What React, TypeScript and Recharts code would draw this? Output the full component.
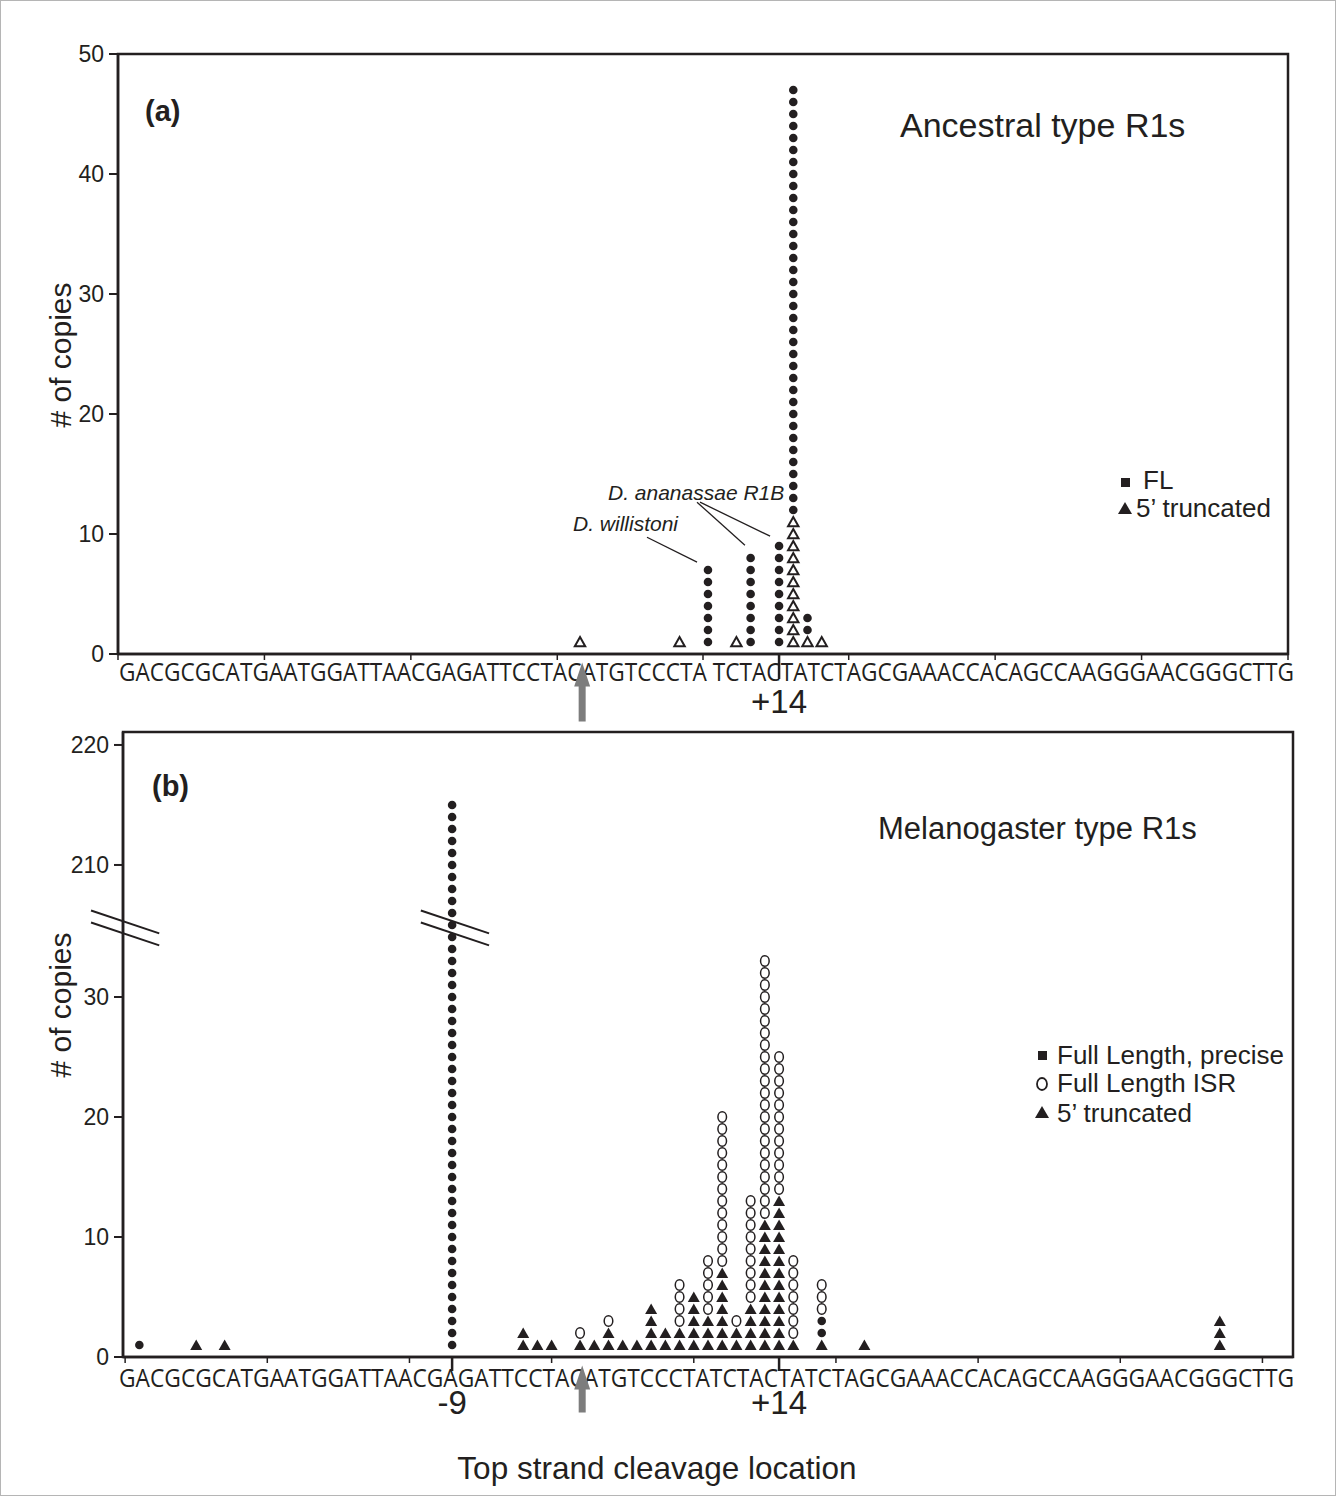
import React from 'react';
import {
  ScatterChart, Scatter, XAxis, YAxis, ReferenceArea, ReferenceLine, ReferenceDot,
} from 'recharts';

// sequence shown under both x axes (panel a has a gap after CCCTA)
const SEQ_A = 'GACGCGCATGAATGGATTAACGAGATTCCTACATGTCCCTA TCTACTATCTAGCGAAACCACAGCCAAGGGAACGGGCTTG';
const SEQ_B = 'GACGCGCATGAATGGATTAACGAGATTCCTACATGTCCCTATCTACTATCTAGCGAAACCACAGCCAAGGGAACGGGCTTG';

// (a) Ancestral type R1s - cleavage site relative to the arrow, copies per site
const A_TRUNC_SITES = [0, 7, 11, 15, 16, 17];
const A_TRUNC_COUNTS = [1, 1, 1, 11, 1, 1];
const A_FL_SITES = [9, 12, 14, 15, 16];
const A_FL_COUNTS = [7, 8, 9, 36, 2];

// (b) Melanogaster type R1s
const B_TRUNC_SITES = [-27, -25, -4, -3, -2, 0, 1, 2, 3, 4, 5, 6, 7, 8, 9, 10, 11, 12, 13, 14, 15, 17, 20, 45];
const B_TRUNC_COUNTS = [1, 1, 2, 1, 1, 1, 1, 2, 1, 1, 4, 2, 2, 5, 3, 7, 2, 4, 11, 13, 1, 1, 1, 3];
const B_PRECISE_SITES = [-31, -9, 17];
const B_PRECISE_COUNTS = [1, 215, 2];
const B_ISR_SITES = [0, 2, 7, 9, 10, 11, 12, 13, 14, 15, 17];
const B_ISR_COUNTS = [1, 1, 4, 5, 13, 1, 9, 22, 12, 7, 3];

// axes
const A_X_DOMAIN: [number, number] = [-32.5, 49.8];
const B_X_DOMAIN: [number, number] = [-32.15, 50.15];
const A_X_TICKS = [-32.5, -22.2, -11.9, -1.6, 8.65, 18.9, 29.2, 39.5, 49.8];
const B_X_TICKS = [-32, -22, -12, -2, 8, 18, 28, 38, 48];
const A_MAJOR = [14];
const A_MAJOR_LABELS = ['+14'];
const B_MAJOR = [-9, 14];
const B_MAJOR_LABELS = ['-9', '+14'];
const A_Y_TICKS = [0, 10, 20, 30, 40, 50];
const B_Y_TICKS = [0, 10, 20, 30, 210, 220];
const ARROW_SITE = 0.15;

// y axis break in panel b
const BREAK_LOW = 35;
const BREAK_HIGH = 205;
const BREAK_SHIFT = 169;
const toDisplay = (v: number) => (v <= BREAK_LOW ? v : v - BREAK_SHIFT);
const fromDisplay = (d: number) => (d <= BREAK_LOW ? d : d + BREAK_SHIFT);

const FONT = "'Liberation Sans', Arial, Helvetica, sans-serif";
const SEQ_FONT = "'Open Sans', 'Liberation Sans', sans-serif";
const INK = '#231f20';

type Pt = { x: number; y: number };

// stack series on top of each other, site by site, in the given order
function stack(series: [number[], number[]][]): Pt[][] {
  const base: Record<number, number> = {};
  return series.map(([sites, counts]) => {
    const pts: Pt[] = [];
    sites.forEach((s, i) => {
      const b = base[s] ?? 0;
      for (let k = 1; k <= counts[i]; k++) pts.push({ x: s, y: b + k });
      base[s] = b + counts[i];
    });
    return pts;
  });
}

const [aTrunc, aFL] = stack([[A_TRUNC_SITES, A_TRUNC_COUNTS], [A_FL_SITES, A_FL_COUNTS]]);
const [bTrunc, bPrecise, bISR] = stack([
  [B_TRUNC_SITES, B_TRUNC_COUNTS],
  [B_PRECISE_SITES, B_PRECISE_COUNTS],
  [B_ISR_SITES, B_ISR_COUNTS],
]).map((pts) => pts
  .filter((p) => p.y <= BREAK_LOW || p.y >= BREAK_HIGH)
  .map((p) => ({ x: p.x, y: toDisplay(p.y) })));

const Disc = (p: any) => <circle cx={p.cx} cy={p.cy} r={4.3} fill={INK} />;
const OpenTri = (p: any) => (
  <path d={`M${p.cx},${p.cy - 5} L${p.cx + 5.2},${p.cy + 4.2} L${p.cx - 5.2},${p.cy + 4.2} Z`}
    fill="#fff" stroke={INK} strokeWidth={2} />
);
const SolidTri = (p: any) => (
  <path d={`M${p.cx},${p.cy - 5.5} L${p.cx + 6},${p.cy + 5} L${p.cx - 6},${p.cy + 5} Z`} fill={INK} />
);
const Ring = (p: any) => (
  <ellipse cx={p.cx} cy={p.cy} rx={4.3} ry={5.2} fill="none" stroke={INK} strokeWidth={1.5} />
);

function UpArrow(props: any) {
  const { cx, cy, len } = props;
  const head = 24, hw = 8, sw = 3.5;
  return (
    <path
      d={`M${cx},${cy} L${cx + hw},${cy + head} L${cx + sw},${cy + head} L${cx + sw},${cy + len} L${cx - sw},${cy + len} L${cx - sw},${cy + head} L${cx - hw},${cy + head} Z`}
      fill="#7d7d7d"
    />
  );
}

function SiteTick(props: any) {
  const { x, y, payload, majors, labels, longLen, labelDy } = props;
  const i = majors.indexOf(payload.value);
  if (i < 0) return <g />;
  return (
    <g>
      <line x1={x} x2={x} y1={y - 6} y2={y - 6 + longLen} stroke={INK} strokeWidth={2.5} />
      <text x={x} y={y + labelDy} textAnchor="middle" fontSize={33} fontFamily={FONT} fill={INK}>
        {labels[i]}
      </text>
    </g>
  );
}

function SeqLabel(props: any) {
  const { viewBox, seq, dx, dy } = props;
  if (!viewBox) return null;
  return (
    <text x={viewBox.x + dx} y={viewBox.y + dy} textLength={1175} lengthAdjust="spacingAndGlyphs"
      fontSize={25} fontFamily={SEQ_FONT} fill={INK}>
      {seq}
    </text>
  );
}

const yTick = { fontSize: 23, fill: INK, fontFamily: FONT };
const axisLine = { stroke: INK, strokeWidth: 2.5 };

function PanelA() {
  return (
    <ScatterChart width={1336} height={740} margin={{ top: 54, right: 48, bottom: 5, left: 58 }}>
      <XAxis type="number" dataKey="x" domain={A_X_DOMAIN} allowDataOverflow
        ticks={[...A_X_TICKS, ...A_MAJOR]} interval={0} tickSize={6} tickMargin={0} height={81}
        axisLine={axisLine} tickLine={{ stroke: INK, strokeWidth: 1.5 }}
        tick={<SiteTick majors={A_MAJOR} labels={A_MAJOR_LABELS} longLen={25} labelDy={53} />}
        label={<SeqLabel seq={SEQ_A} dx={1} dy={27} />} />
      <YAxis type="number" dataKey="y" domain={[0, 50]} ticks={A_Y_TICKS} interval={0} width={60}
        tickSize={9} tickMargin={5} tick={yTick} axisLine={axisLine} tickLine={{ stroke: INK, strokeWidth: 2 }} />
      <ReferenceArea x1={A_X_DOMAIN[0]} x2={A_X_DOMAIN[1]} y1={0} y2={50} fill="none"
        stroke={INK} strokeWidth={2.5} ifOverflow="visible" />
      <ReferenceLine segment={[{ x: 4.71, y: 9.73 }, { x: 8.23, y: 7.65 }]} stroke={INK} strokeWidth={1.3} ifOverflow="visible" />
      <ReferenceLine segment={[{ x: 8.23, y: 12.65 }, { x: 11.6, y: 9.07 }]} stroke={INK} strokeWidth={1.3} ifOverflow="visible" />
      <ReferenceLine segment={[{ x: 8.44, y: 12.65 }, { x: 13.37, y: 9.82 }]} stroke={INK} strokeWidth={1.3} ifOverflow="visible" />
      <Scatter data={aTrunc} shape={OpenTri} isAnimationActive={false} />
      <Scatter data={aFL} shape={Disc} isAnimationActive={false} />
      <ReferenceDot x={ARROW_SITE} y={-0.7} ifOverflow="visible"
        shape={(p: any) => <UpArrow {...p} len={59} />} />
    </ScatterChart>
  );
}

const B_Y_TOP = 52.08;

function PanelB() {
  return (
    <ScatterChart width={1336} height={796} margin={{ top: 32, right: 43, bottom: 9, left: 63 }}>
      <XAxis type="number" dataKey="x" domain={B_X_DOMAIN} allowDataOverflow
        ticks={[...B_X_TICKS, ...B_MAJOR]} interval={0} tickSize={6} tickMargin={0} height={130}
        axisLine={axisLine} tickLine={{ stroke: INK, strokeWidth: 1.5 }}
        tick={<SiteTick majors={B_MAJOR} labels={B_MAJOR_LABELS} longLen={14} labelDy={51} />}
        label={<SeqLabel seq={SEQ_B} dx={-4} dy={30} />} />
      <YAxis type="number" dataKey="y" domain={[0, B_Y_TOP]} ticks={B_Y_TICKS.map(toDisplay)} interval={0}
        width={60} tickSize={9} tickMargin={5} tick={yTick} tickFormatter={(v: number) => String(fromDisplay(v))}
        axisLine={axisLine} tickLine={{ stroke: INK, strokeWidth: 2 }} />
      <ReferenceArea x1={B_X_DOMAIN[0]} x2={B_X_DOMAIN[1]} y1={0} y2={B_Y_TOP} fill="none"
        stroke={INK} strokeWidth={2.5} ifOverflow="visible" />
      {/* axis break marks */}
      <ReferenceLine segment={[{ x: -34.4, y: 37.2 }, { x: -29.6, y: 35.3 }]} stroke={INK} strokeWidth={2} ifOverflow="visible" />
      <ReferenceLine segment={[{ x: -34.4, y: 36.2 }, { x: -29.6, y: 34.3 }]} stroke={INK} strokeWidth={2} ifOverflow="visible" />
      <ReferenceLine segment={[{ x: -11.2, y: 37.2 }, { x: -6.4, y: 35.3 }]} stroke={INK} strokeWidth={2} ifOverflow="visible" />
      <ReferenceLine segment={[{ x: -11.2, y: 36.2 }, { x: -6.4, y: 34.3 }]} stroke={INK} strokeWidth={2} ifOverflow="visible" />
      <Scatter data={bTrunc} shape={SolidTri} isAnimationActive={false} />
      <Scatter data={bPrecise} shape={Disc} isAnimationActive={false} />
      <Scatter data={bISR} shape={Ring} isAnimationActive={false} />
      <ReferenceDot x={ARROW_SITE} y={-0.7} ifOverflow="visible"
        shape={(p: any) => <UpArrow {...p} len={47} />} />
    </ScatterChart>
  );
}

function Overlay() {
  const t = { fontFamily: FONT, fill: INK, dominantBaseline: 'central' as const };
  return (
    <svg width={1336} height={1496} style={{ position: 'absolute', left: 0, top: 0, pointerEvents: 'none' }}>
      <text x={145} y={111} fontSize={29} fontWeight="bold" {...t}>(a)</text>
      <text x={900} y={125} fontSize={34} {...t}>Ancestral type R1s</text>
      <text x={573} y={523} fontSize={21} fontStyle="italic" {...t}>D. willistoni</text>
      <text x={608} y={492} fontSize={21} fontStyle="italic" {...t}>D. ananassae R1B</text>
      <rect x={1121} y={478} width={9} height={9} fill={INK} />
      <text x={1143} y={480} fontSize={26} {...t}>FL</text>
      <path d="M1125,502 L1132,514 L1118,514 Z" fill={INK} />
      <text x={1136} y={508} fontSize={26} {...t}>5’ truncated</text>
      <text transform="translate(60,355) rotate(-90)" textAnchor="middle" fontSize={30} {...t}># of copies</text>

      <text x={152} y={786} fontSize={29} fontWeight="bold" {...t}>(b)</text>
      <text x={878} y={828} fontSize={31} {...t}>Melanogaster type R1s</text>
      <rect x={1038} y={1051} width={9} height={9} fill={INK} />
      <text x={1057} y={1055} fontSize={26} {...t}>Full Length, precise</text>
      <ellipse cx={1042} cy={1084} rx={5} ry={6} fill="none" stroke={INK} strokeWidth={1.8} />
      <text x={1057} y={1083} fontSize={26} {...t}>Full Length ISR</text>
      <path d="M1042,1106 L1049,1118 L1035,1118 Z" fill={INK} />
      <text x={1057} y={1113} fontSize={26} {...t}>5’ truncated</text>
      <text transform="translate(60,1005) rotate(-90)" textAnchor="middle" fontSize={30} {...t}># of copies</text>
      <text x={657} y={1468} textAnchor="middle" fontSize={31.5} {...t}>Top strand cleavage location</text>
    </svg>
  );
}

export default function App() {
  return (
    <div style={{ position: 'relative', width: 1336, height: 1496, background: '#fff', boxSizing: 'border-box', border: '1px solid #b5b5b5' }}>
      <style>{'body{margin:0}'}</style>
      <div style={{ position: 'absolute', left: -1, top: -1 }}>
        <PanelA />
      </div>
      <div style={{ position: 'absolute', left: -1, top: 699 }}>
        <PanelB />
      </div>
      <div style={{ position: 'absolute', left: -1, top: -1 }}>
        <Overlay />
      </div>
    </div>
  );
}
